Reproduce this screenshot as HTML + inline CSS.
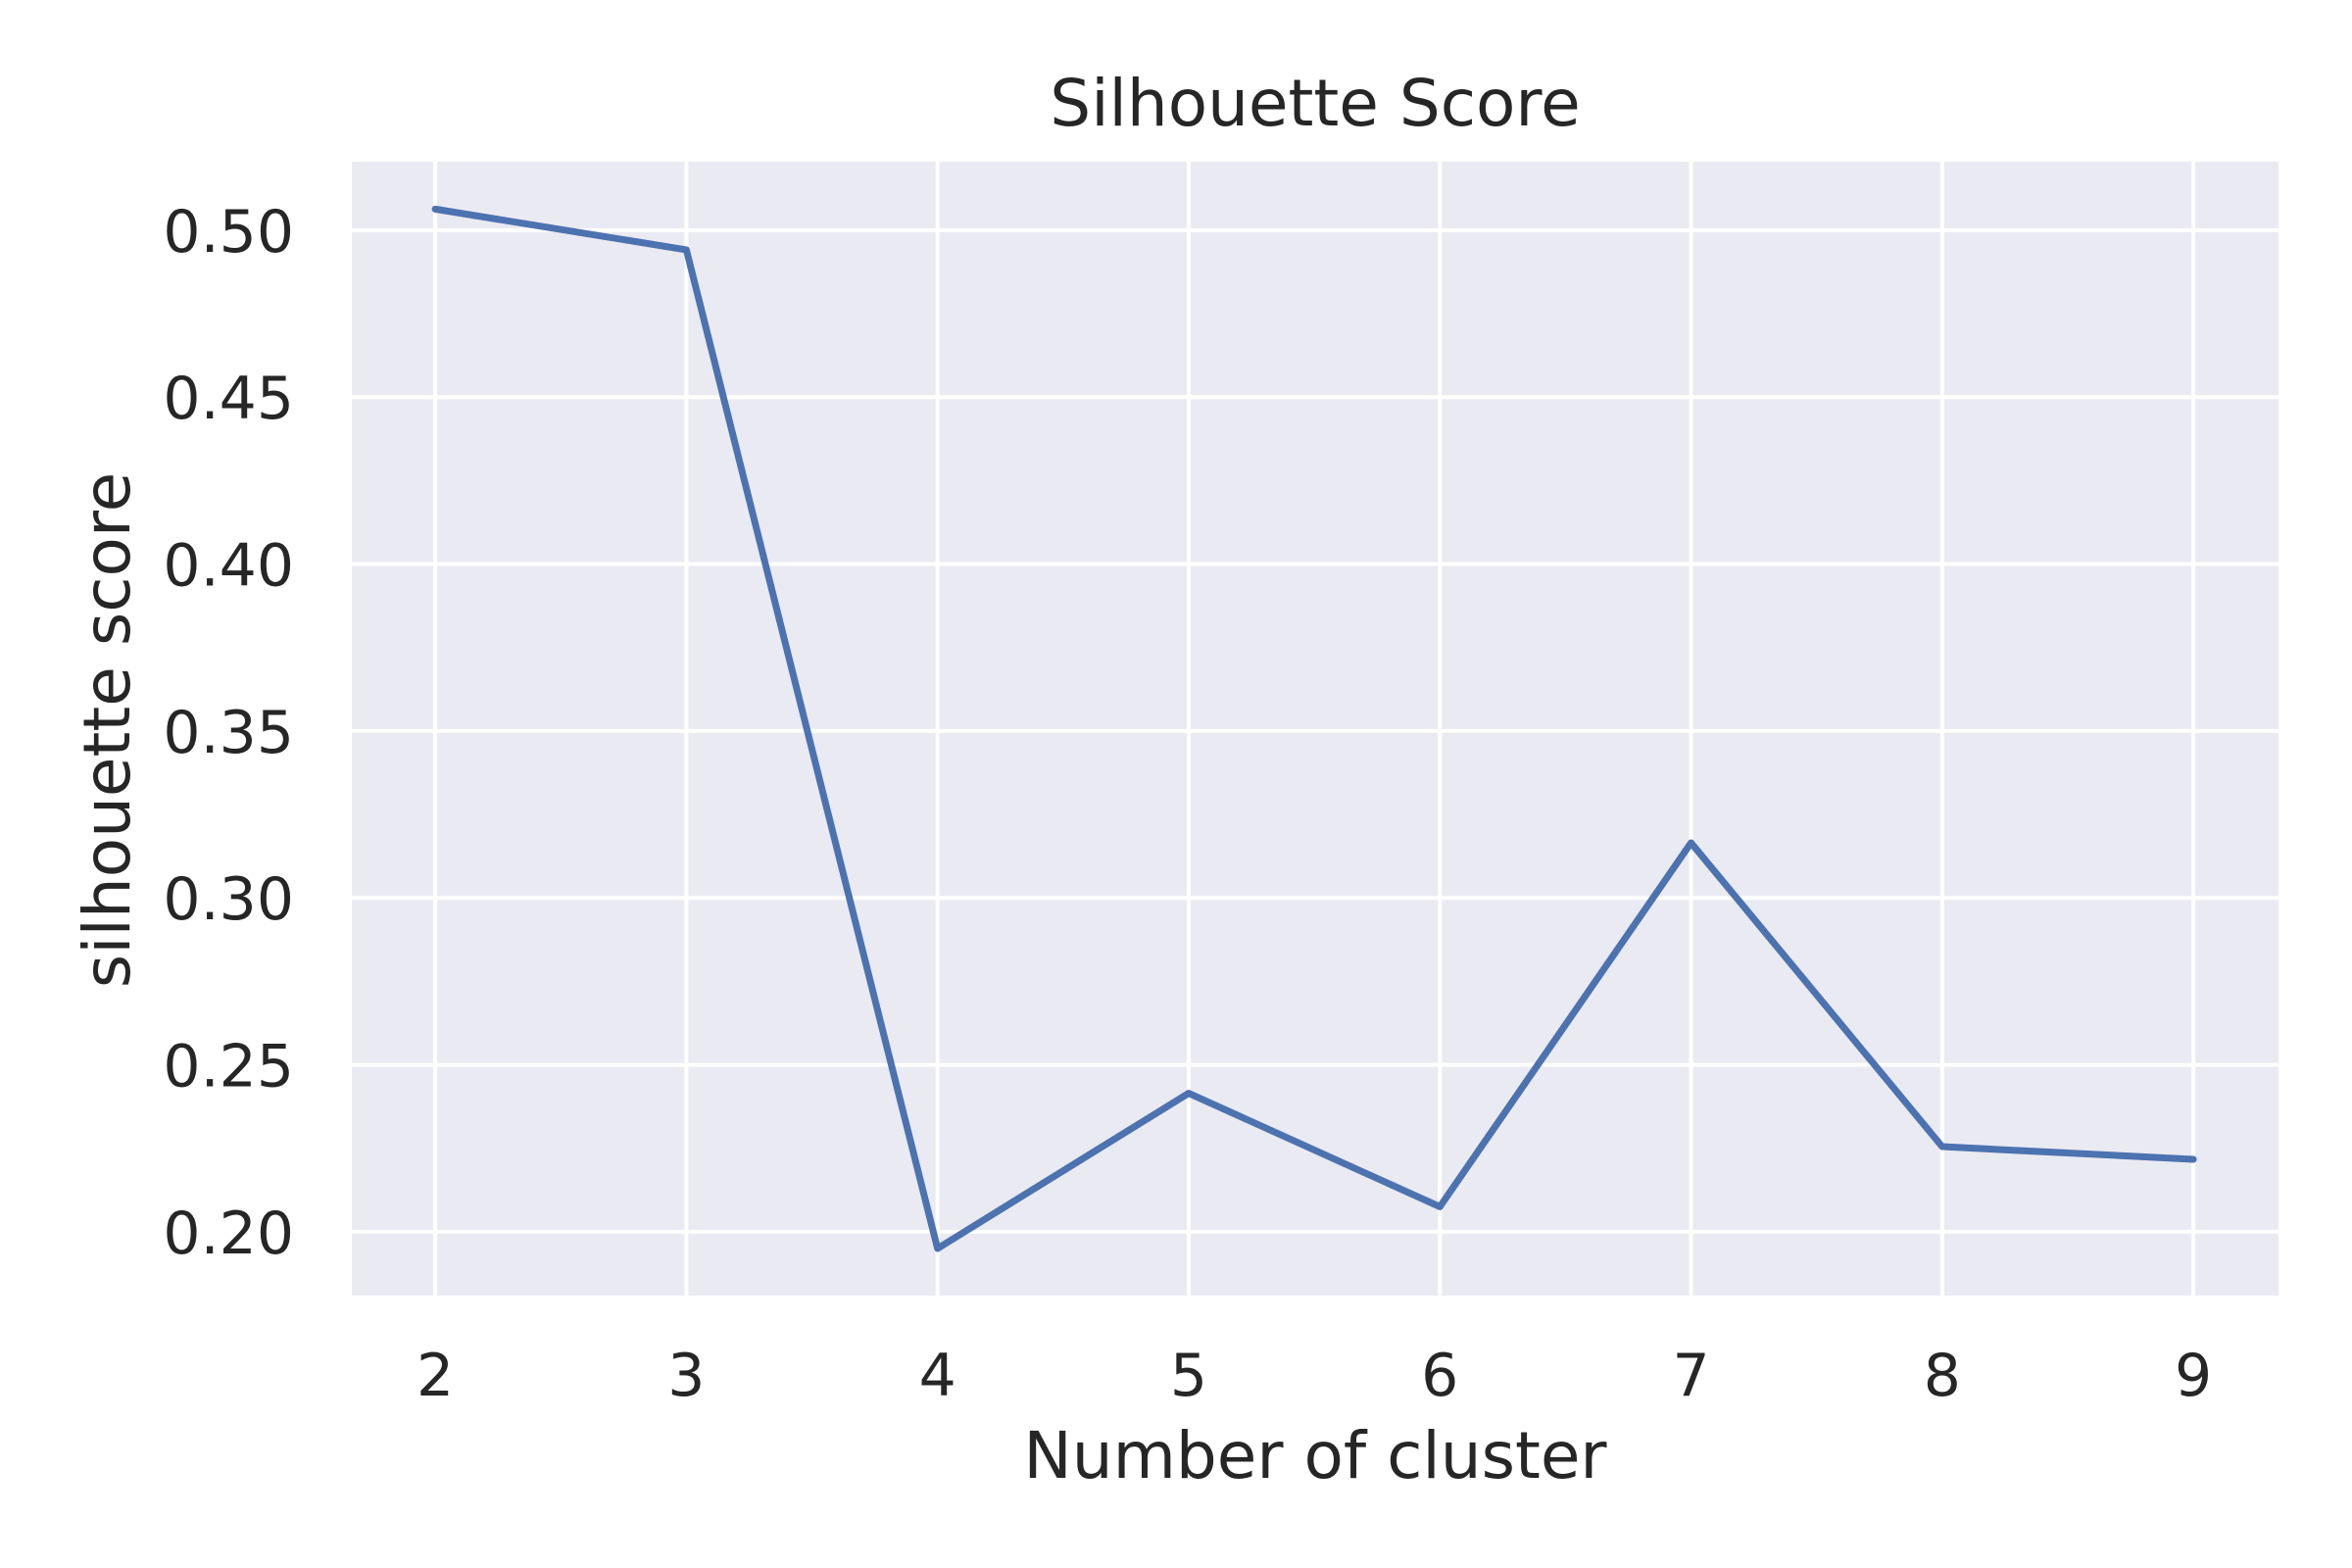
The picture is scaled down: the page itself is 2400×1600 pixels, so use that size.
<!DOCTYPE html>
<html><head><meta charset="utf-8"><style>
html,body{margin:0;padding:0;background:#fff;}
svg{display:block;font-family:"DejaVu Sans","Liberation Sans",sans-serif;}
</style></head><body>
<svg id="chart" width="2400" height="1600" viewBox="0 0 2400 1600">
<rect x="359" y="165" width="1966" height="1157" fill="#eaeaf2"/>
<g id="grid"></g>
<g id="ticks"></g>
<path id="line" fill="none" stroke="#4c72b0" stroke-width="7" stroke-linecap="round" stroke-linejoin="round"/>
<text x="1342" y="128" font-size="66" fill="#262626" text-anchor="middle">Silhouette Score</text>
<text x="1342" y="1508" font-size="66" fill="#262626" text-anchor="middle">Number of cluster</text>
<text transform="translate(132,745) rotate(-90)" font-size="66" fill="#262626" text-anchor="middle">silhouette score</text>
</svg>
<script>
const categories = [2,3,4,5,6,7,8,9];
const scores = [0.5063,0.4941,0.195,0.2415,0.2075,0.3165,0.2255,0.2217];
const yTicks = [0.20,0.25,0.30,0.35,0.40,0.45,0.50];
const yTickLabels = ["0.20","0.25","0.30","0.35","0.40","0.45","0.50"];

const PL=359,PR=2325,PT=165,PB=1322;
const XMIN=1.668,XMAX=9.339,YMIN=0.1809,YMAX=0.5205;
const sx=v=>PL+(v-XMIN)/(XMAX-XMIN)*(PR-PL);
const sy=v=>PB-(v-YMIN)/(YMAX-YMIN)*(PB-PT);
const NS="http://www.w3.org/2000/svg";
const grid=document.getElementById('grid'),ticks=document.getElementById('ticks');
function mk(tag,attrs,parent){const e=document.createElementNS(NS,tag);for(const k in attrs)e.setAttribute(k,attrs[k]);parent.appendChild(e);return e;}
categories.forEach(c=>{
  const l=mk('line',{x1:sx(c),x2:sx(c),y1:PT,y2:PB,stroke:'#fff','stroke-width':4},grid);
  
  
  const t=mk('text',{x:sx(c),y:1424,'font-size':60,fill:'#262626','text-anchor':'middle'},ticks);
  t.textContent=String(c);
  
  
});
yTicks.forEach((v,i)=>{
  const l=mk('line',{x1:PL,x2:PR,y1:sy(v),y2:sy(v),stroke:'#fff','stroke-width':4},grid);
  
  
  const t=mk('text',{x:300,y:sy(v)+22,'font-size':60,fill:'#262626','text-anchor':'end'},ticks);
  t.textContent=yTickLabels[i];
  
  
});
document.getElementById('line').setAttribute('d',categories.map((c,i)=>(i?'L':'M')+sx(c)+' '+sy(scores[i])).join(' '));
</script>
</body></html>
